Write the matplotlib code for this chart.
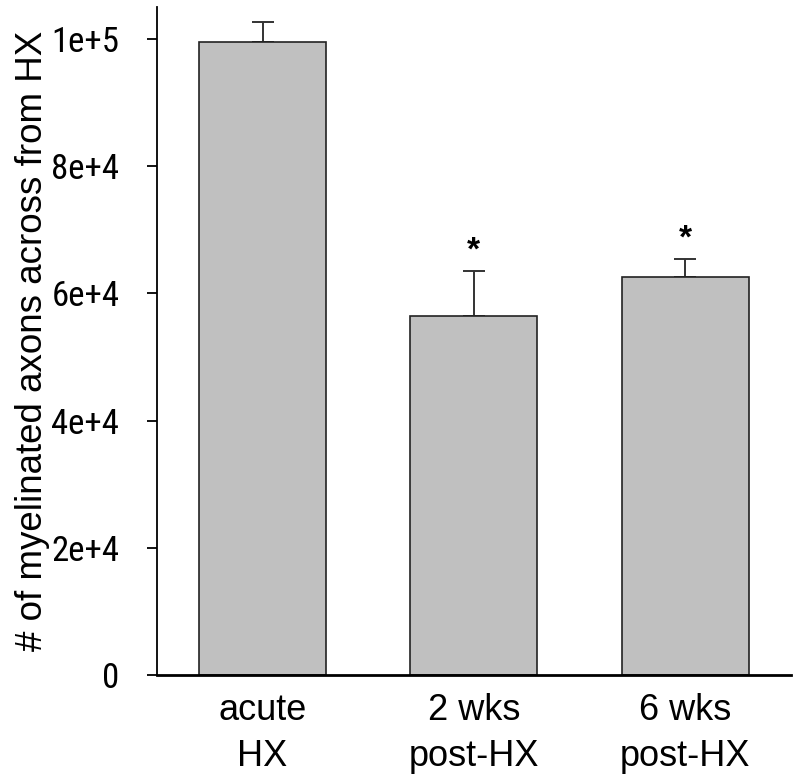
import matplotlib.pyplot as plt
from matplotlib import font_manager

groups = ["acute\nHX", "2 wks\npost-HX", "6 wks\npost-HX"]
means = [99450, 56450, 62550]
errs = [3250, 7100, 2850]
stars = ["", "*", "*"]
yticks = [0, 20000, 40000, 60000, 80000, 100000]
ytick_labels = ["0", "2e+4", "4e+4", "6e+4", "8e+4", "1e+5"]

plt.rcParams["font.family"] = ["Liberation Sans", "DejaVu Sans"]

# look for a narrow / condensed sans for the y tick labels
narrow = None
for f in font_manager.fontManager.ttflist:
    key = (f.name + " " + f.fname).lower()
    if ("narrow" in key or "condensed" in key) and "bold" not in key and "oblique" not in key \
            and "italic" not in key and "mono" not in key and "serif" not in f.name.lower():
        narrow = f
        if "liberation" in key:
            break
if narrow is not None:
    ytick_font = font_manager.FontProperties(fname=narrow.fname, size=25)
else:
    ytick_font = font_manager.FontProperties(family="Liberation Sans", size=21)

fig = plt.figure(figsize=(7.96, 7.8), dpi=100)
ax = fig.add_axes([0.197, 0.1342, 0.7967, 0.857])

x = range(len(groups))
ax.bar(x, means, width=0.6, color="#c0c0c0", edgecolor="#222222", linewidth=1.2, zorder=2)
ax.errorbar(x, means, yerr=[[0] * len(errs), errs], fmt="none", ecolor="#333333",
            elinewidth=1.4, capsize=8, capthick=1.4, zorder=1)
for xi, m, e, s in zip(x, means, errs, stars):
    if s:
        ax.text(xi, m + e + 700, s, ha="center", va="bottom", fontsize=24, fontweight="bold")

ax.set_xlim(-0.5, 2.5)
ax.set_ylim(0, 105000)
ax.set_yticks(yticks)
ax.set_yticklabels(ytick_labels, fontproperties=ytick_font)
ax.set_xticks(list(x))
ax.set_xticklabels(groups, fontsize=26, linespacing=1.4)
ax.tick_params(axis="x", length=0, pad=13)
ax.tick_params(axis="y", length=7, width=1.3, pad=20)
ax.set_ylabel("# of myelinated axons across from HX", fontsize=26.5)
ax.yaxis.set_label_coords(-0.168, 0.5)
for side in ["top", "right"]:
    ax.spines[side].set_visible(False)
ax.spines["left"].set_linewidth(1.3)
ax.spines["bottom"].set_linewidth(2)

fig.savefig("out.png", dpi=100)
